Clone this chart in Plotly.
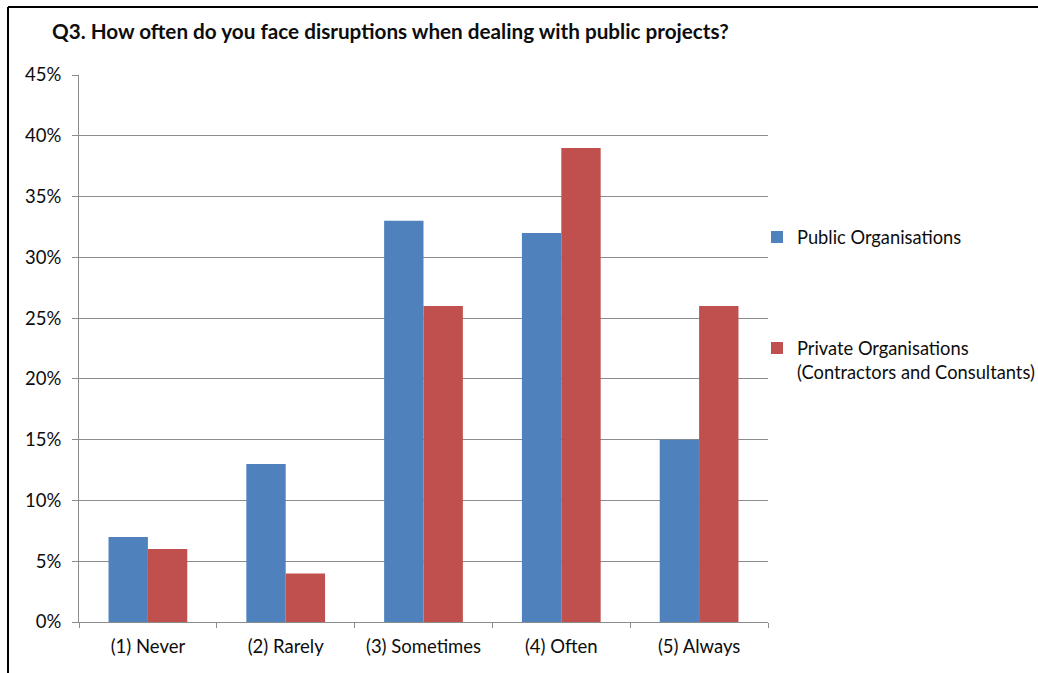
import plotly.graph_objects as go

categories = ["(1) Never", "(2) Rarely", "(3) Sometimes", "(4) Often", "(5) Always"]
public_vals = [7, 13, 33, 32, 15]
private_vals = [6, 4, 26, 39, 26]
series_names = ["Public Organisations", "Private Organisations<br>(Contractors and Consultants)"]
title_text = "Q3. How often do you face disruptions when dealing with public projects?"

FONT = "Lato, 'Open Sans', sans-serif"
BLUE = "#4F81BD"
RED = "#C0504D"
GRID = "#8c8c8c"
TXT = "#0d0d0d"

W, H = 1038, 673
L, R, T, B = 79, 270, 75, 51
pw = W - L - R
ph = H - T - B

def px_x(px):
    return (px - L) / pw

def px_y(py):
    return (H - B - py) / ph

fig = go.Figure()
fig.add_trace(go.Bar(x=categories, y=public_vals, name=series_names[0],
                     marker=dict(color=BLUE, line=dict(width=0)), legend="legend"))
fig.add_trace(go.Bar(x=categories, y=private_vals, name=series_names[1],
                     marker=dict(color=RED, line=dict(width=0)), legend="legend2"))

fig.update_layout(
    width=W, height=H,
    margin=dict(l=L, r=R, t=T, b=B, autoexpand=False),
    paper_bgcolor="white", plot_bgcolor="white",
    barmode="group", bargap=1.5 / 3.5, bargroupgap=0,
    font=dict(family=FONT, size=18, color=TXT),
    title=dict(text="<b>" + title_text + "</b>", x=52 / W, xanchor="left",
               y=1 - 32 / H, yanchor="middle", xref="container", yref="container",
               font=dict(family=FONT, size=20.7, color=TXT)),
    xaxis=dict(showgrid=False, showline=True, linecolor=GRID, linewidth=1,
               ticks="outside", tickson="boundaries", ticklen=5, tickcolor=GRID,
               ticklabelstandoff=8,
               tickfont=dict(size=18.5, family=FONT, color=TXT), fixedrange=True),
    yaxis=dict(range=[0, 45], dtick=5, ticksuffix="%", showgrid=True, gridcolor=GRID,
               gridwidth=1, showline=True, linecolor=GRID, linewidth=1,
               ticks="outside", ticklen=6, tickcolor=GRID, zeroline=False,
               ticklabelstandoff=7, tickfont=dict(size=18.5, family=FONT, color=TXT)),
    legend=dict(x=px_x(757), y=px_y(237), xanchor="left", yanchor="middle",
                font=dict(size=18.3, family=FONT, color=TXT), bgcolor="rgba(0,0,0,0)",
                itemwidth=30),
    legend2=dict(x=px_x(757), y=px_y(360), xanchor="left", yanchor="middle",
                 font=dict(size=18.3, family=FONT, color=TXT), bgcolor="rgba(0,0,0,0)",
                 itemwidth=30, valign="top"),
    showlegend=True,
)

# outer frame (top and left edges visible)
fig.add_shape(type="line", xref="paper", yref="paper",
              x0=px_x(8), x1=px_x(W + 5), y0=px_y(7), y1=px_y(7),
              line=dict(color="black", width=2))
fig.add_shape(type="line", xref="paper", yref="paper",
              x0=px_x(8), x1=px_x(8), y0=px_y(7), y1=px_y(H + 5),
              line=dict(color="black", width=2))

fig.write_html("out.html", config={"displayModeBar": False},
               post_script="document.body.style.margin='0';")
